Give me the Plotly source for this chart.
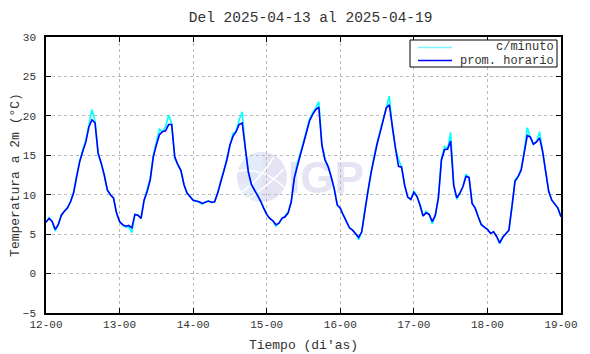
import base64
import pandas as pd
import plotly.graph_objects as go

# ---- data ----
prom_horario = [
    # 12
    6.5, 7.0, 6.6, 5.6, 6.2, 7.4, 7.9, 8.3, 9.1, 10.2, 12.3, 14.2,
    15.5, 16.7, 18.6, 19.5, 19.1, 15.3, 14.0, 12.5, 10.6, 10.0, 9.6, 7.7,
    # 13
    6.6, 6.2, 6.0, 6.1, 5.8, 7.5, 7.4, 7.0, 9.3, 10.4, 11.9, 14.8,
    16.3, 17.6, 18.0, 18.1, 18.9, 18.9, 14.8, 13.8, 13.1, 11.3, 10.2, 9.8,
    # 14
    9.3, 9.2, 9.1, 8.9, 9.1, 9.2, 9.05, 9.1, 10.2, 11.7, 12.9, 14.4,
    16.3, 17.4, 18.0, 18.9, 19.1, 15.9, 12.9, 11.3, 10.6, 10.0, 9.2, 8.3,
    # 15
    7.5, 7.0, 6.7, 6.2, 6.4, 7.0, 7.2, 7.7, 9.1, 12.1, 13.8, 15.1,
    16.5, 18.0, 19.4, 20.2, 20.8, 21.1, 16.3, 14.4, 13.6, 12.3, 10.8, 8.7,
    # 16
    8.3, 7.4, 6.6, 5.8, 5.5, 5.1, 4.6, 5.3, 8.1, 10.4, 12.7, 14.7,
    16.4, 17.9, 19.4, 21.0, 21.4, 18.4, 15.9, 13.6, 13.5, 11.2, 9.7, 9.4,
    # 17
    10.3, 9.8, 8.7, 7.3, 7.7, 7.5, 6.6, 7.4, 9.6, 14.4, 15.7, 15.8,
    16.8, 11.2, 9.6, 10.2, 11.0, 12.3, 12.2, 8.9, 8.3, 7.2, 6.2, 5.9,
    # 18
    5.6, 5.1, 5.3, 4.7, 3.9, 4.6, 5.0, 5.5, 8.5, 11.7, 12.3, 13.1,
    15.3, 17.5, 17.3, 16.4, 16.7, 17.2, 15.5, 12.9, 10.4, 9.3, 8.8, 8.3,
    # 19-00
    7.2,
]

c_minuto = [
    # 12
    6.5, 7.1, 6.6, 5.4, 6.2, 7.4, 7.9, 8.4, 9.1, 10.3, 12.4, 14.3,
    15.7, 16.9, 18.9, 20.8, 19.3, 15.1, 14.0, 12.5, 10.6, 10.0, 9.6, 7.7,
    # 13
    6.6, 6.1, 5.9, 5.9, 5.2, 7.5, 7.4, 7.0, 9.3, 10.5, 12.0, 15.0,
    16.5, 18.3, 18.0, 18.6, 20.1, 19.0, 14.6, 13.8, 13.1, 11.3, 10.2, 9.8,
    # 14
    9.3, 9.2, 9.0, 8.8, 9.1, 9.2, 9.0, 9.1, 10.2, 11.8, 13.0, 14.6,
    16.5, 17.8, 18.0, 19.5, 20.5, 15.9, 12.9, 11.3, 10.6, 10.0, 9.2, 8.3,
    # 15
    7.5, 7.0, 6.7, 6.0, 6.4, 7.0, 7.3, 7.8, 9.1, 12.2, 14.0, 15.3,
    16.7, 18.2, 19.6, 20.4, 21.0, 21.8, 16.3, 14.6, 13.6, 12.3, 10.8, 8.7,
    # 16
    8.3, 7.4, 6.6, 5.8, 5.5, 5.1, 4.3, 5.3, 8.1, 10.5, 12.8, 14.9,
    16.6, 18.1, 19.6, 21.3, 22.5, 18.4, 15.9, 14.5, 13.5, 11.2, 9.7, 9.4,
    # 17
    10.5, 9.8, 8.7, 7.3, 7.9, 7.5, 6.3, 7.4, 9.6, 14.6, 16.1, 15.8,
    17.9, 11.2, 9.4, 10.2, 11.0, 12.6, 12.2, 8.9, 8.3, 7.2, 6.2, 5.9,
    # 18
    5.6, 5.1, 5.3, 4.7, 3.8, 4.6, 5.0, 5.5, 8.5, 11.9, 12.3, 13.3,
    15.5, 18.5, 17.3, 16.4, 16.7, 18.0, 15.5, 12.9, 10.4, 9.3, 8.8, 8.3,
    # 19-00
    7.2,
]

tiempo = pd.date_range("2025-04-12 00:00", periods=len(prom_horario), freq="h")

series_names = ["c/minuto", "prom. horario"]
series_colors = ["#00ffff", "#0000ff"]

x_range = ["2025-04-12 00:00", "2025-04-19 00:00"]
y_range = [-5, 30]
y_ticks = [-5, 0, 5, 10, 15, 20, 25, 30]

FONT = "Liberation Mono, Courier New, monospace"
TXT = "#333333"

# The page body has an 8px default margin, so the figure is laid out in
# coordinates shifted by OFF relative to the window.
OFF = 8
FW, FH = 590 - OFF, 354 - OFF
# plot-area geometry in window pixels
L, R, T, B = 46, 561, 37, 313
W, H = R - L, B - T
def px(x):
    return (x - L) / W
def py(y):
    return (B - y) / H

# ---- faint IGP watermark (svg image) ----
svg = """<svg xmlns='http://www.w3.org/2000/svg' width='140' height='60' viewBox='0 0 140 60'>
<circle cx='30' cy='30' r='25' fill='#e4e4f4'/>
<path d='M8 22 A25 25 0 0 1 30 5 L30 30 Z' fill='#e2ecfa'/>
<path d='M6 38 A25 25 0 0 0 26 55 L30 30 Z' fill='#e2ecfa'/>
<path d='M6 24 Q30 20 52 40' stroke='white' stroke-width='1.6' fill='none'/>
<path d='M10 45 Q28 32 42 10' stroke='white' stroke-width='1.6' fill='none'/>
<path d='M16 52 Q34 40 52 22' stroke='white' stroke-width='1.6' fill='none'/>
<text x='56' y='46' font-family='Liberation Sans, Arial, sans-serif' font-weight='bold'
 font-size='44' fill='#e4e4f4'>IGP</text>
</svg>"""
logo = "data:image/svg+xml;base64," + base64.b64encode(svg.encode()).decode()

fig = go.Figure()
fig.add_trace(go.Scatter(
    x=tiempo, y=c_minuto, mode="lines", name=series_names[0],
    line=dict(color=series_colors[0], width=1.6), hoverinfo="skip", showlegend=False))
fig.add_trace(go.Scatter(
    x=tiempo, y=prom_horario, mode="lines", name=series_names[1],
    line=dict(color=series_colors[1], width=1.6), showlegend=False))

# ---- legend drawn as box + sample lines + right-aligned labels ----
shapes = [dict(type="rect", xref="paper", yref="paper",
               x0=px(410), x1=px(557), y0=py(67), y1=py(40),
               line=dict(color="black", width=1), fillcolor="white", layer="above")]
annotations = []
for i, (nm, col) in enumerate(zip(series_names, series_colors)):
    yy = 47.5 + 13 * i
    shapes.append(dict(type="line", xref="paper", yref="paper",
                       x0=px(418), x1=px(452), y0=py(yy), y1=py(yy),
                       line=dict(color=col if i else "#7ff5ff", width=1.3), layer="above"))
    annotations.append(dict(text=nm, xref="paper", yref="paper",
                            x=px(556), y=py(yy), xanchor="right", yanchor="middle",
                            showarrow=False,
                            font=dict(family=FONT, size=12, color=TXT)))

fig.update_layout(
    width=FW, height=FH,
    margin=dict(l=L - OFF, r=FW - (R - OFF), t=T - OFF, b=FH - (B - OFF), autoexpand=False),
    paper_bgcolor="white", plot_bgcolor="rgba(0,0,0,0)",
    font=dict(family=FONT, size=11, color=TXT),
    title=dict(text="Del 2025-04-13 al 2025-04-19", x=0.52, xanchor="center",
               y=1 - (17 - OFF) / FH, yanchor="middle",
               font=dict(family=FONT, size=14.5, color=TXT)),
    showlegend=False,
    shapes=shapes,
    annotations=annotations,
    images=[dict(source=logo, xref="paper", yref="paper",
                 x=px(232), y=py(147),
                 sizex=140 / W, sizey=60 / H,
                 xanchor="left", yanchor="top", layer="below", sizing="stretch")],
)

fig.update_xaxes(
    type="date", range=x_range, dtick=86400000, tickformat="%d-%H",
    automargin=False,
    showline=True, linecolor="black", linewidth=1.5, mirror="allticks",
    ticks="inside", ticklen=5, tickcolor="black",
    showgrid=True, gridcolor="#bbbbbb", griddash="dot", gridwidth=1,
    zeroline=False,
    title=dict(text="Tiempo (di'as)", font=dict(family=FONT, size=13, color=TXT),
               standoff=10),
    tickfont=dict(family=FONT, size=11, color=TXT),
)
fig.update_yaxes(
    range=y_range, tickvals=y_ticks,
    automargin=False,
    showline=True, linecolor="black", linewidth=1.5, mirror="allticks",
    ticks="inside", ticklen=5, tickcolor="black",
    showgrid=True, gridcolor="#bbbbbb", griddash="dot", gridwidth=1,
    zeroline=False, ticklabelstandoff=6,
    title=dict(text="Temperatura a 2m (°C)", font=dict(family=FONT, size=13, color=TXT),
               standoff=5),
    tickfont=dict(family=FONT, size=11, color=TXT),
)

fig.write_html("out.html")
